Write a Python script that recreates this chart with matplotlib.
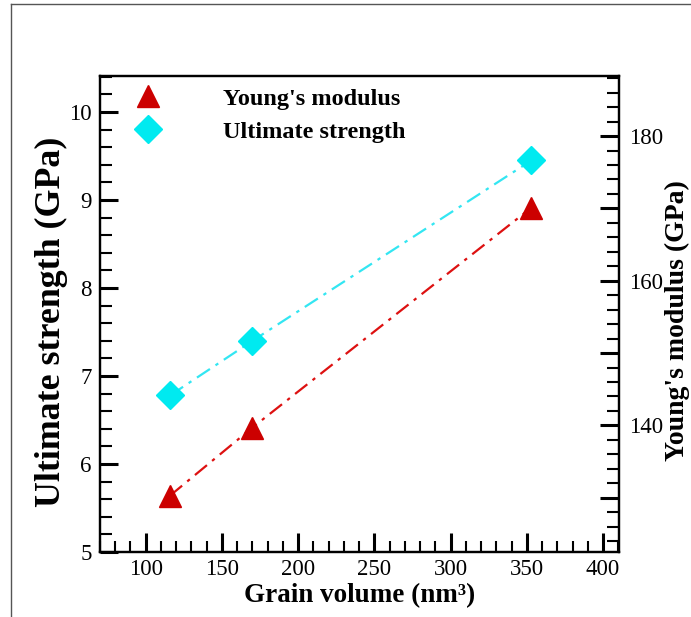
import numpy as np
import matplotlib
matplotlib.use("Agg")
import matplotlib.pyplot as plt
from matplotlib.ticker import MultipleLocator, FuncFormatter
from matplotlib.lines import Line2D

plt.rcParams['font.family'] = ['Liberation Serif', 'DejaVu Serif']

# data
grain_volume = [116, 170, 353]
ultimate_strength = [6.78, 7.40, 9.45]
youngs_modulus = [130.3, 139.7, 170.1]

red = "#cc0000"
cyan = "#00eaf0"

fig = plt.figure(figsize=(6.91, 6.17), dpi=100)
ax = fig.add_axes([100/691, 1-552/617, 519/691, 476/617])
ax2 = ax.twinx()

dash = (0, (7, 3, 1.5, 3))
ax.plot(grain_volume, ultimate_strength, color="#33e6f2", lw=1.6, linestyle=dash,
        marker="D", ms=14, mfc=cyan, mec=cyan, zorder=3)
ax2.plot(grain_volume, youngs_modulus, color="#dd1111", lw=1.6, linestyle=dash,
         marker="^", ms=16, mfc=red, mec=red, zorder=3)

ax.set_xlim(70, 410.5)
ax.set_ylim(5, 10.41)
ax2.set_ylim(122.5, 188.3)

ax.xaxis.set_major_locator(MultipleLocator(50))
ax.xaxis.set_minor_locator(MultipleLocator(10))
ax.yaxis.set_major_locator(MultipleLocator(1))
ax.yaxis.set_minor_locator(MultipleLocator(0.2))
ax2.yaxis.set_major_locator(MultipleLocator(10))
ax2.yaxis.set_minor_locator(MultipleLocator(2))
ax2.yaxis.set_major_formatter(FuncFormatter(lambda v, p: "%d" % v if int(round(v)) % 20 == 0 else ""))

ax.tick_params(axis="x", which="major", direction="in", length=13.5, width=2.2, labelsize=16.5, pad=5, top=False)
ax.tick_params(axis="x", which="minor", direction="in", length=8, width=1.5, top=False)
ax.tick_params(axis="y", which="major", direction="in", length=13, width=2.2, labelsize=16.5, pad=6, right=False)
ax.tick_params(axis="y", which="minor", direction="in", length=8.5, width=1.5, right=False)
ax2.tick_params(axis="y", which="major", direction="in", length=14, width=2.2, labelsize=16.5, pad=7)
ax2.tick_params(axis="y", which="minor", direction="in", length=8.5, width=1.5)

for a in (ax, ax2):
    for s in a.spines.values():
        s.set_linewidth(1.6)

ax.set_xlabel("Grain volume (nm³)", fontsize=19.5, fontweight="bold", labelpad=2)
ax.set_ylabel("Ultimate strength (GPa)", fontsize=25.8, fontweight="bold")
ax.yaxis.set_label_coords(-0.062, 0.483)
ax2.set_ylabel("Young's modulus (GPa)", fontsize=20, fontweight="bold")
ax2.yaxis.set_label_coords(1.088, 0.487)

handles = [Line2D([], [], linestyle="none", marker="^", ms=16, mfc=red, mec=red),
           Line2D([], [], linestyle="none", marker="D", ms=14, mfc=cyan, mec=cyan)]
leg = ax.legend(handles, ["Young's modulus", "Ultimate strength"], loc="upper left",
                bbox_to_anchor=(0.017, 1.006), frameon=False, handlelength=2.0,
                handletextpad=2.1, labelspacing=0.45, borderaxespad=0.2,
                prop={"size": 17.5, "weight": "bold"})

# thin frame lines along the left and top edge of the picture
fig.add_artist(Line2D([10.5/691, 10.5/691], [0, 1-3.5/617], transform=fig.transFigure, color="#555555", lw=1))
fig.add_artist(Line2D([10.5/691, 1], [1-3.5/617, 1-3.5/617], transform=fig.transFigure, color="#555555", lw=1))

fig.savefig("out.png", dpi=100)
